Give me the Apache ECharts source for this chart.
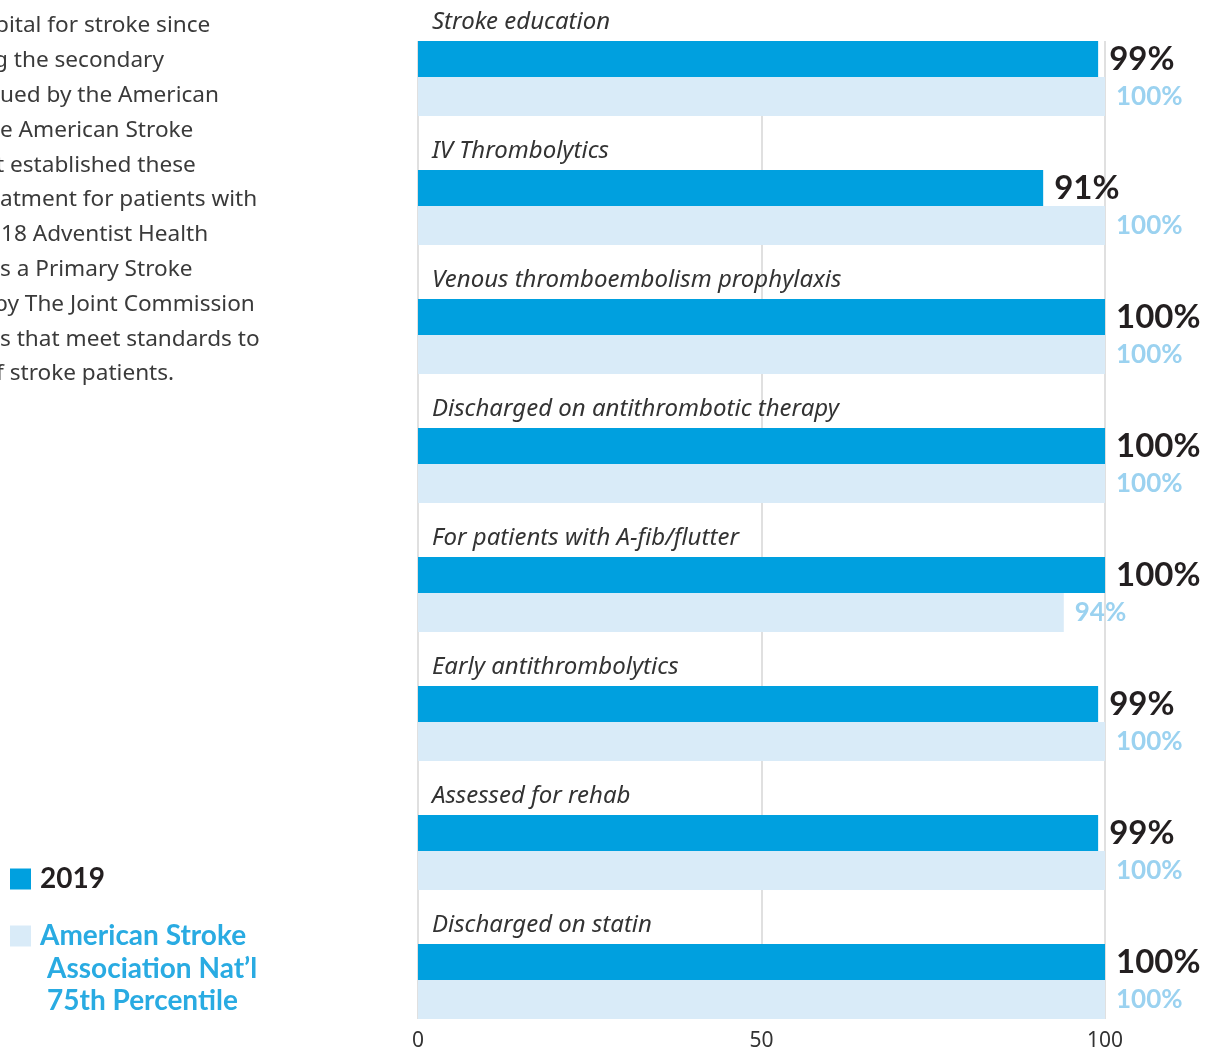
<!DOCTYPE html>
<html>
<head>
<meta charset="utf-8">
<script src="https://cdn.jsdelivr.net/npm/echarts@6/dist/echarts.min.js"></script>
<style>
  html, body { margin: 0; padding: 0; background: #fff; }
  #chart { width: 1205px; height: 1048px; }
</style>
</head>
<body>
<div id="chart"></div>
<script>
// Stroke quality measures: hospital 2019 results vs. national benchmark
const categories = [
  'Stroke education',
  'IV Thrombolytics',
  'Venous thromboembolism prophylaxis',
  'Discharged on antithrombotic therapy',
  'For patients with A-fib/flutter',
  'Early antithrombolytics',
  'Assessed for rehab',
  'Discharged on statin'
];
const values2019 = [99, 91, 100, 100, 100, 99, 99, 100];
const valuesNational = [100, 100, 100, 100, 94, 100, 100, 100];
const seriesNames = ['2019', 'American Stroke Association Nat’l 75th Percentile'];
const xTicks = [0, 50, 100];

// Intro paragraph (runs off the left edge of the page)
const introLines = [
  { text: 'pital for stroke since', x: -5 },
  { text: 'g the secondary', x: -6 },
  { text: 'ued by the American', x: 0 },
  { text: 'e American Stroke', x: 0 },
  { text: 't established these', x: -4 },
  { text: 'atment for patients with', x: 0 },
  { text: '18 Adventist Health', x: 1 },
  { text: 's a Primary Stroke', x: 0 },
  { text: 'by The Joint Commission', x: -6 },
  { text: 's that meet standards to', x: 0 },
  { text: 'f stroke patients.', x: -4 }
];

const DARK = '#00a0df';
const LIGHT = '#d9ebf8';

const chart = echarts.init(document.getElementById('chart'), null, { renderer: 'canvas' });

const graphics = introLines.map((l, i) => ({
  type: 'text',
  x: l.x,
  y: 26 + i * 34.8,
  silent: true,
  style: {
    text: l.text,
    font: '22.6px "Noto Sans"',
    fill: '#3a3a3a',
    verticalAlign: 'middle'
  }
}));
// keep the vertical guide lines from running above the first bar
graphics.push({
  type: 'rect',
  z: 1,
  silent: true,
  shape: { x: 400, y: -20, width: 720, height: 61 },
  style: { fill: '#fff' }
});

chart.setOption({
  animation: false,
  backgroundColor: '#fff',
  graphic: graphics,
  grid: {
    left: 418, right: 100, top: -13, bottom: 29,
    containLabel: false,
    outerBoundsMode: 'none'
  },
  xAxis: {
    type: 'value',
    min: xTicks[0],
    max: xTicks[xTicks.length - 1],
    interval: xTicks[1] - xTicks[0],
    axisLine: { show: false },
    axisTick: { show: false },
    splitLine: { show: true, lineStyle: { color: '#d6d6d6', width: 1.5 } },
    axisLabel: {
      margin: 12,
      fontSize: 21,
      fontFamily: 'Noto Sans',
      color: '#333'
    }
  },
  yAxis: {
    type: 'category',
    data: categories,
    inverse: true,
    axisLine: { show: false },
    axisTick: { show: false },
    splitLine: { show: false },
    axisLabel: { show: false }
  },
  legend: [
    {
      data: [seriesNames[0]],
      left: 10,
      top: 865,
      padding: 0,
      icon: 'rect',
      itemWidth: 21,
      itemHeight: 21,
      selectedMode: false,
      textStyle: {
        fontSize: 28,
        lineHeight: 28,
        fontWeight: 'bold',
        fontFamily: 'Lato',
        color: '#231f20',
        padding: [0, 0, 0, 4]
      }
    },
    {
      data: [seriesNames[1]],
      left: 10,
      top: 857,
      padding: 0,
      icon: 'rect',
      itemWidth: 21,
      itemHeight: 21,
      selectedMode: false,
      // two blank lead lines keep the swatch level with the first text line
      formatter: () => '{b| }\n{b| }\n{a|American Stroke}\n{b|Association Nat’l}\n{b|75th Percentile}',
      textStyle: {
        rich: {
          a: { fontSize: 28, fontWeight: 'bold', fontFamily: 'Lato', color: '#29abe2', lineHeight: 32.5, padding: [0, 0, 0, 4] },
          b: { fontSize: 28, fontWeight: 'bold', fontFamily: 'Lato', color: '#29abe2', lineHeight: 32.5, padding: [0, 0, 0, 11] }
        }
      }
    }
  ],
  series: [
    {
      // slot above each pair of bars that carries the measure name
      type: 'bar',
      name: '_labelSlot',
      silent: true,
      barWidth: 54,
      barGap: 0,
      data: categories.map(() => 0),
      itemStyle: { color: 'rgba(0,0,0,0)' },
      label: {
        show: true,
        position: 'insideLeft',
        distance: 14,
        offset: [0, 8],
        formatter: (p) => p.name,
        fontSize: 24,
        fontStyle: 'italic',
        fontFamily: 'Noto Sans',
        color: '#333'
      }
    },
    {
      type: 'bar',
      name: seriesNames[0],
      barWidth: 36,
      barGap: 0,
      data: values2019,
      itemStyle: { color: DARK },
      label: {
        show: true,
        position: 'right',
        distance: 11,
        formatter: '{c}%',
        fontSize: 33,
        fontWeight: 'bold',
        fontFamily: 'Lato',
        color: '#231f20'
      }
    },
    {
      type: 'bar',
      name: seriesNames[1],
      barWidth: 39,
      barGap: 0,
      data: valuesNational,
      itemStyle: { color: LIGHT },
      label: {
        show: true,
        position: 'right',
        distance: 11,
        formatter: '{c}%',
        fontSize: 26,
        fontWeight: 'bold',
        fontFamily: 'Lato',
        color: '#9bd2f0'
      }
    }
  ]
});
</script>
</body>
</html>
